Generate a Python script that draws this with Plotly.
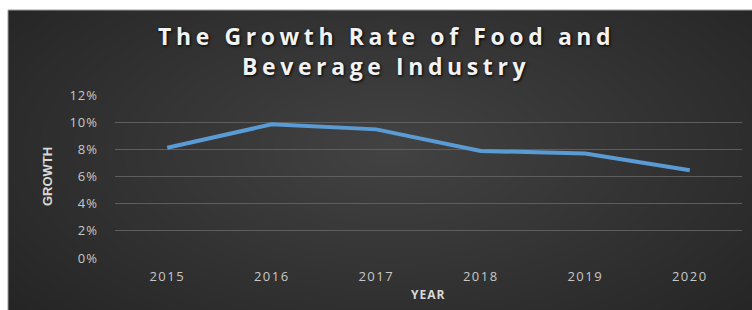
import plotly.graph_objects as go

years = ["2015", "2016", "2017", "2018", "2019", "2020"]
growth = [0.0812, 0.0984, 0.0947, 0.0788, 0.0770, 0.0646]
y_ticks = [0, 0.02, 0.04, 0.06, 0.08, 0.10, 0.12]
y_tick_labels = ["0%", "2%", "4%", "6%", "8%", "10%", "12%"]
title_lines = ["The Growth Rate of Food and", "Beverage Industry"]
x_title = "YEAR"
y_title = "GROWTH"

W, H = 752, 310
L, R, T, B = 115, 10, 95, 52
pw, ph = W - L - R, H - T - B


def px2x(px):
    return (px - L) / pw


def py2y(py):
    return 1 - (py - T) / ph


def spaced(s, sp):
    return '<span style="letter-spacing:%spx">%s</span>' % (sp, s)


fig = go.Figure()
fig.add_trace(go.Scatter(
    x=years, y=growth, mode="lines",
    line=dict(color="#5b9bd5", width=4),
    hoverinfo="skip", showlegend=False,
))

shapes = []
shapes.append(dict(type="rect", xref="paper", yref="paper", layer="below",
                   x0=px2x(8), x1=px2x(W + 2), y0=py2y(H + 2), y1=py2y(10),
                   fillcolor="#242424", line=dict(color="#9a9a9a", width=1)))
cx, cy = 390, 150
N = 30
for i in range(N):
    f = 1 - i / N
    rx, ry = 500 * f, 250 * f
    shapes.append(dict(type="circle", xref="paper", yref="paper", layer="below",
                       x0=px2x(cx - rx), x1=px2x(cx + rx),
                       y0=py2y(cy + ry), y1=py2y(cy - ry),
                       fillcolor="rgba(255,255,255,0.0085)", line=dict(width=0)))

annotations = []
for i, line in enumerate(title_lines):
    annotations.append(dict(
        text=spaced(line, 4.6), xref="paper", yref="paper", showarrow=False,
        x=px2x(386), y=py2y(36 + 30 * i), xanchor="center", yanchor="middle",
        font=dict(family="Open Sans, sans-serif", size=23, color="#f2f2f2",
                  weight="bold", shadow="1px 1px 3px #000"),
    ))
annotations.append(dict(
    text=spaced(x_title, 1), xref="paper", yref="paper", showarrow=False,
    x=px2x(428), y=py2y(294), xanchor="center", yanchor="middle",
    font=dict(family="Open Sans, sans-serif", size=12, color="#d9d9d9", weight="bold"),
))
annotations.append(dict(
    text=y_title, xref="paper", yref="paper", showarrow=False, textangle=-90,
    x=px2x(47), y=py2y(177), xanchor="center", yanchor="middle",
    font=dict(family="Liberation Sans Narrow, Arial Narrow, sans-serif",
              size=13, color="#d9d9d9", weight="bold"),
))

fig.update_layout(
    width=W, height=H,
    margin=dict(l=L, r=R, t=T, b=B, pad=0),
    paper_bgcolor="white",
    plot_bgcolor="rgba(0,0,0,0)",
    shapes=shapes,
    annotations=annotations,
    xaxis=dict(
        type="category", showgrid=False, zeroline=False, showline=False,
        automargin=False, ticks="", ticklabelstandoff=9,
        tickvals=years, ticktext=[spaced(y, 1.5) for y in years],
        tickfont=dict(family="Open Sans, sans-serif", size=13, color="#c8c8c8"),
        range=[-0.5, 5.5],
    ),
    yaxis=dict(
        range=[0, 0.12], tickvals=y_ticks, ticktext=[spaced(t, 1) for t in y_tick_labels],
        showgrid=True, gridcolor="#5e5e5e", gridwidth=1, zeroline=False,
        showline=False, ticks="", ticklabelstandoff=16, automargin=False,
        tickfont=dict(family="Open Sans, sans-serif", size=13, color="#c8c8c8"),
    ),
)

fig.write_html("out.html", config={"displayModeBar": False},
               post_script="document.body.style.margin='0';")
